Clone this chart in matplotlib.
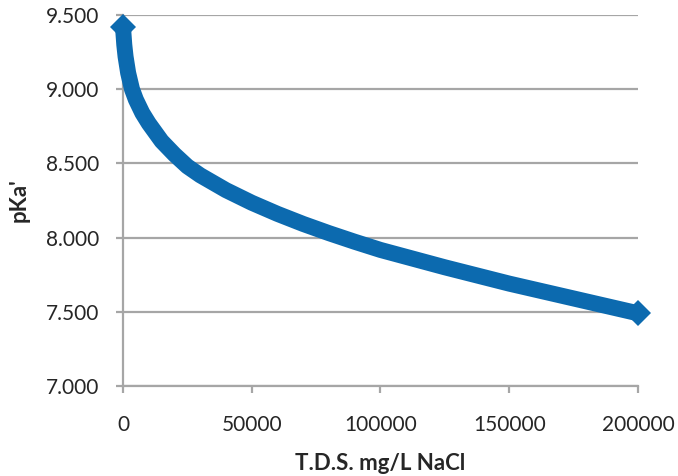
import matplotlib
matplotlib.use("Agg")
import matplotlib.pyplot as plt

tds = [0, 500, 1000, 2000, 3500, 5000, 7500, 10000, 15000, 20000, 25000, 30000,
       40000, 50000, 60000, 70000, 80000, 90000, 100000, 125000, 150000, 175000, 200000]
pka = [9.42, 9.30, 9.22, 9.11, 9.00, 8.93, 8.84, 8.77, 8.65, 8.56, 8.48, 8.42,
       8.32, 8.235, 8.16, 8.092, 8.03, 7.972, 7.917, 7.80, 7.69, 7.59, 7.49]
yticks = [7.0, 7.5, 8.0, 8.5, 9.0, 9.5]
ytick_labels = ["7.000", "7.500", "8.000", "8.500", "9.000", "9.500"]
xticks = [0, 50000, 100000, 150000, 200000]
xtick_labels = ["0", "50000", "100000", "150000", "200000"]

plt.rcParams['font.family'] = ['Lato', 'DejaVu Sans']

fig = plt.figure(figsize=(6.78, 4.76), dpi=100)
ax = fig.add_axes([0.1814, 0.189, 0.941 - 0.1814, 0.9685 - 0.189])

blue = "#0c6aaf"
grey = "#a6a6a6"

ax.set_xlim(0, 200000)
ax.set_ylim(7.0, 9.5)
ax.set_yticks(yticks)
ax.set_yticklabels(ytick_labels)
ax.set_xticks(xticks)
ax.set_xticklabels(xtick_labels)

ax.grid(axis='y', color=grey, linewidth=1.6, zorder=0)
ax.set_axisbelow(True)
for s in ['top', 'right']:
    ax.spines[s].set_visible(False)
for s in ['left', 'bottom']:
    ax.spines[s].set_color(grey)
    ax.spines[s].set_linewidth(1.6)

ax.tick_params(axis='both', colors=grey, length=5, width=1.6, labelsize=15,
               labelcolor='#262626')
ax.tick_params(axis='y', pad=12)
ax.tick_params(axis='x', pad=16)

ax.plot(tds, pka, color=blue, linewidth=11.5, solid_joinstyle='round',
        solid_capstyle='butt', marker='D', markersize=13, markevery=[0, len(tds) - 1],
        markeredgewidth=0, clip_on=False, zorder=3)

ax.set_xlabel("T.D.S. mg/L NaCl", fontsize=16, fontweight='bold', color='#262626', labelpad=13)
ax.set_ylabel("pKa'", fontsize=16, fontweight='bold', color='#262626', labelpad=12)

fig.savefig("out.png", dpi=100)
